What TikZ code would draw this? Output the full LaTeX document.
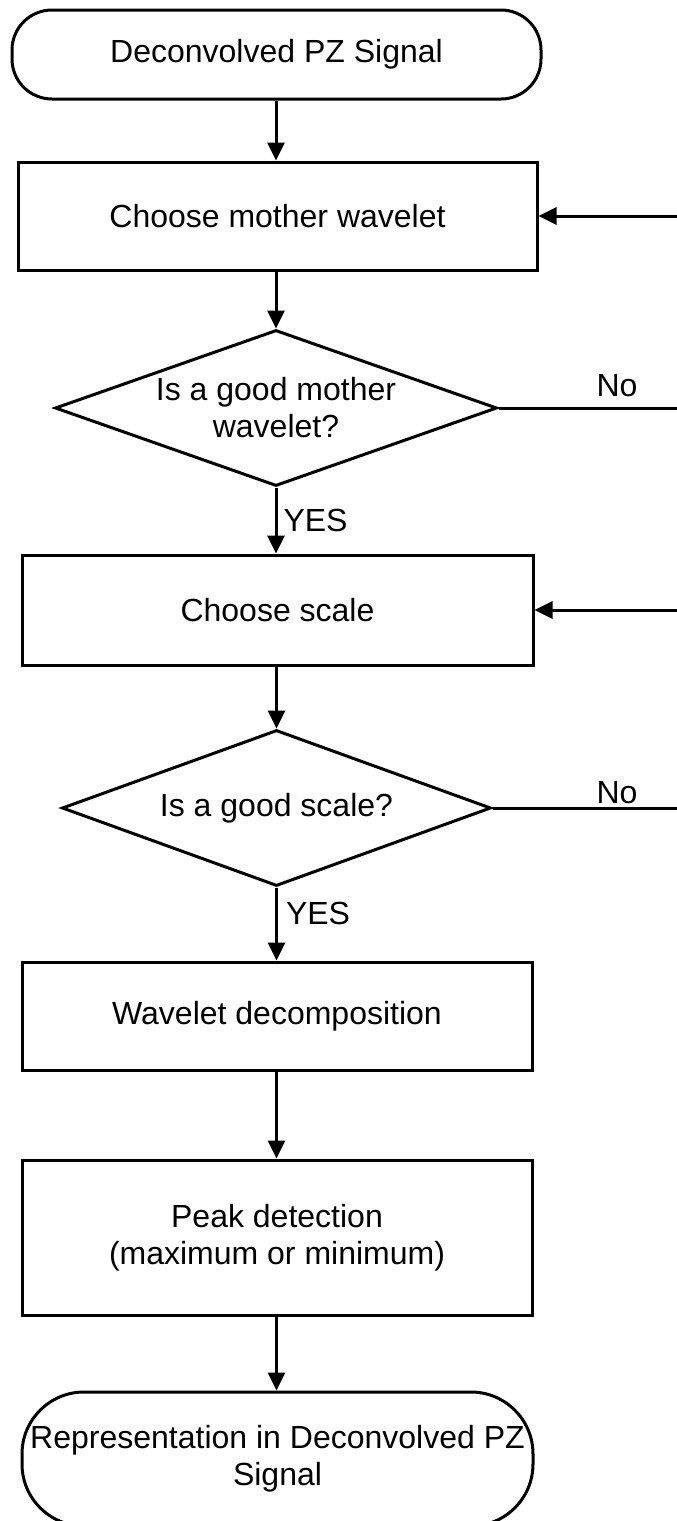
\documentclass[tikz,border=0pt]{standalone}
\usepackage{fontspec}
\setmainfont{Liberation Sans}
\usetikzlibrary{shapes.geometric,arrows.meta}
\begin{document}
\begin{tikzpicture}[x=1pt,y=-1pt,
  every node/.style={font=\fontsize{32}{37}\selectfont},
  flowline/.style={line width=3pt},
  flowarrow/.style={flowline,-{Triangle[length=18pt,width=17pt]}},
  processbox/.style={draw,line width=3pt,rectangle,inner sep=0pt,align=center},
  terminal/.style={draw,line width=3pt,rectangle,inner sep=0pt,align=center},
  decision/.style={draw,line width=3pt,diamond,inner sep=0pt,align=center},
  edgelabel/.style={inner sep=0pt}]
\useasboundingbox (0,0) rectangle (677,1521);
\clip (0,0) rectangle (677,1521);

% main column
\node[terminal,rounded corners=40pt,minimum width=529pt,minimum height=89pt] (start) at (276.5,54.5) {Deconvolved PZ Signal};
\node[processbox,minimum width=519pt,minimum height=108pt] (mother) at (277.5,216) {Choose mother wavelet};
\node[decision,aspect=2.83,minimum width=442pt,minimum height=156pt] (qmother) at (276,408) {Is a good mother\\wavelet?};
\node[processbox,minimum width=511pt,minimum height=110pt] (scale) at (277.5,610) {Choose scale};
\node[decision,aspect=2.75,minimum width=429pt,minimum height=156pt] (qscale) at (276.5,808) {Is a good scale?};
\node[processbox,minimum width=510pt,minimum height=108pt] (decomp) at (277,1016) {Wavelet decomposition};
\node[processbox,minimum width=510pt,minimum height=155pt] (peak) at (277,1237.5) {Peak detection\\(maximum or minimum)};
\node[terminal,rounded corners=62pt,minimum width=511pt,minimum height=134pt] (result) at (277.5,1459) {Representation in Deconvolved PZ\\Signal};

% downward flow
\draw[flowarrow] (start.south -| qmother.north) -- (mother.north -| qmother.north);
\draw[flowarrow] (mother.south -| qmother.north) -- (qmother.north);
\draw[flowarrow] (qmother.south) -- (scale.north -| qmother.south)
  node[edgelabel,anchor=west,pos=0.5,xshift=6pt] (yes1) {YES};
\draw[flowarrow] (scale.south -| qscale.north) -- (qscale.north);
\draw[flowarrow] (qscale.south) -- (decomp.north -| qscale.south)
  node[edgelabel,anchor=west,pos=0.35,xshift=8pt] (yes2) {YES};
\draw[flowarrow] (decomp.south -| qscale.north) -- (peak.north -| qscale.north);
\draw[flowarrow] (peak.south -| qscale.north) -- (result.north -| qscale.north);

% loops back on "No"
\coordinate (loop1) at (720,408);
\coordinate (loop2) at (720,808);
\draw[flowline] (qmother.east) -- (loop1);
\draw[flowarrow] (loop1) -- (loop1 |- mother.east) -- (mother.east);
\draw[flowline] (qscale.east) -- (loop2);
\draw[flowarrow] (loop2) -- (loop2 |- scale.east) -- (scale.east);
\node[edgelabel] (no1) at (617,386) {No};
\node[edgelabel] (no2) at (617,793) {No};
\end{tikzpicture}
\end{document}
